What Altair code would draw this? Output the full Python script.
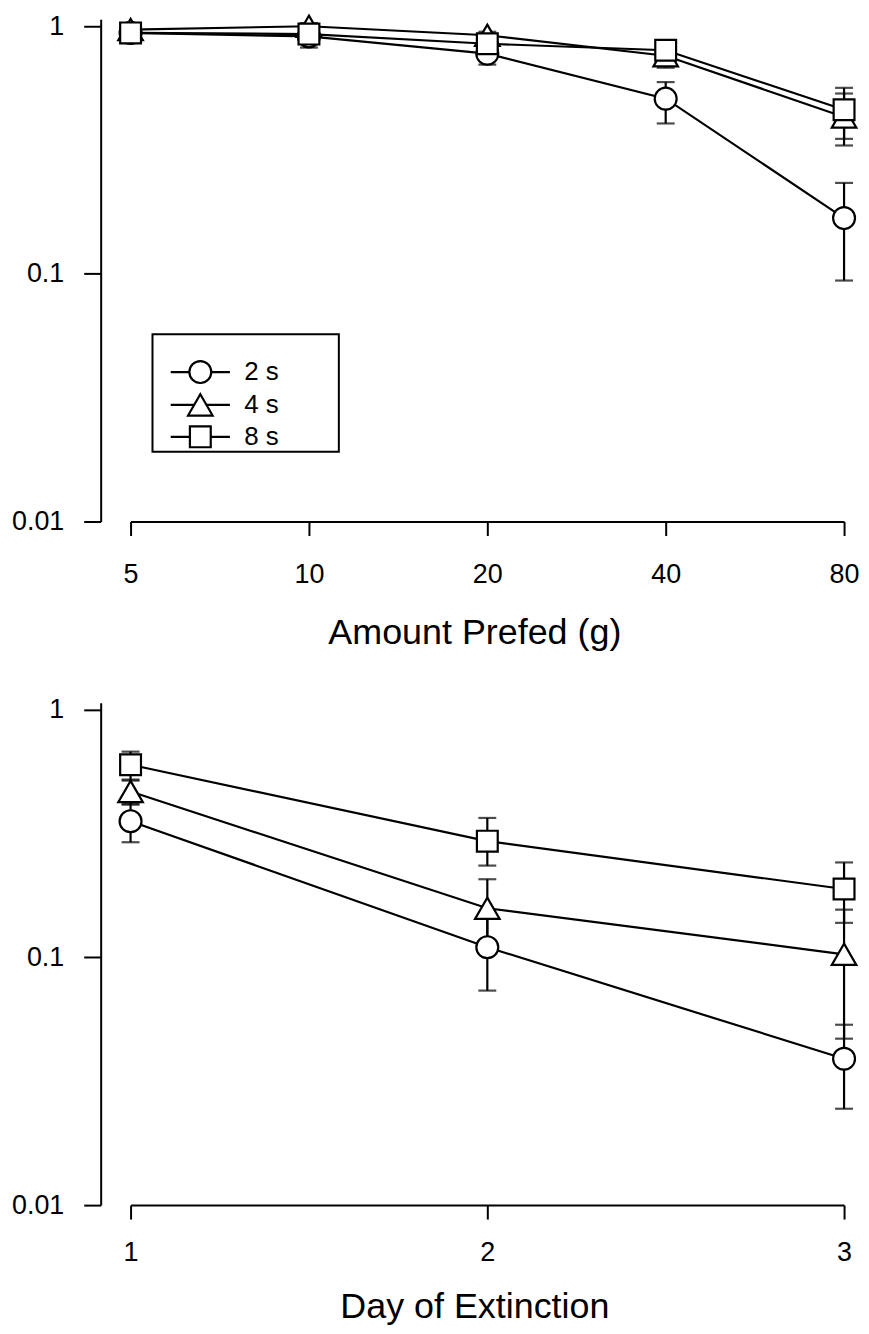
import altair as alt
import pandas as pd

FONT = "Liberation Sans"

series = ["2 s", "4 s", "8 s"]

# Top panel: amount prefed (g)
prefed = [5, 10, 20, 40, 80]
top_mean_2 = [0.94, 0.91, 0.775, 0.51, 0.168]
top_lo_2 = [0.91, 0.82, 0.70, 0.405, 0.094]
top_hi_2 = [0.97, 1.00, 0.85, 0.595, 0.233]
top_mean_4 = [0.97, 1.00, 0.92, 0.76, 0.43]
top_lo_4 = [0.94, 0.97, 0.89, 0.68, 0.33]
top_hi_4 = [1.00, 1.03, 0.95, 0.84, 0.535]
top_mean_8 = [0.94, 0.93, 0.85, 0.80, 0.46]
top_lo_8 = [0.91, 0.90, 0.81, 0.76, 0.351]
top_hi_8 = [0.97, 0.96, 0.89, 0.84, 0.564]

# Bottom panel: day of extinction
days = [1, 2, 3]
bot_mean_2 = [0.355, 0.11, 0.039]
bot_lo_2 = [0.292, 0.0735, 0.0245]
bot_hi_2 = [0.418, 0.146, 0.0535]
bot_mean_4 = [0.468, 0.158, 0.103]
bot_lo_4 = [0.414, 0.108, 0.047]
bot_hi_4 = [0.523, 0.207, 0.156]
bot_mean_8 = [0.60, 0.295, 0.189]
bot_lo_8 = [0.518, 0.235, 0.138]
bot_hi_8 = [0.678, 0.366, 0.242]

y_ticks = [0.01, 0.1, 1]


def make_df(xs, groups):
    rows = []
    for name, (m, lo, hi) in zip(series, groups):
        for x, a, b, c in zip(xs, m, lo, hi):
            rows.append({"x": x, "mean": a, "lo": b, "hi": c, "series": name})
    return pd.DataFrame(rows)


top_df = make_df(prefed, [(top_mean_2, top_lo_2, top_hi_2),
                          (top_mean_4, top_lo_4, top_hi_4),
                          (top_mean_8, top_lo_8, top_hi_8)])
bot_df = make_df(days, [(bot_mean_2, bot_lo_2, bot_hi_2),
                        (bot_mean_4, bot_lo_4, bot_hi_4),
                        (bot_mean_8, bot_lo_8, bot_hi_8)])

marker_paths = [
    "circle",
    "M0,-0.97L1.12,0.97L-1.12,0.97Z",
    "M-0.95,-0.95L0.95,-0.95L0.95,0.95L-0.95,0.95Z",
]
# legend symbols: marker with a short line through it; the trailing move-to
# widens the legend frame without drawing anything
legend_paths = [
    "M-2.7,0L-1,0M1,0L2.7,0M-1,0A1,1 0 1,1 1,0A1,1 0 1,1 -1,0ZM12.2,0",
    "M-2.7,0L-0.56,0M0.56,0L2.7,0M0,-0.97L1.12,0.97L-1.12,0.97ZM12.2,0",
    "M-2.7,0L-0.95,0M0.95,0L2.7,0M-0.95,-0.95L0.95,-0.95L0.95,0.95L-0.95,0.95ZM12.2,0",
]

W, H = 716, 504
ydomain = [0.01, 1.067]
LW = 2.2


def y_axis():
    return alt.Axis(values=y_ticks, tickCount=3, format="~g", offset=30, tickSize=17,
                    labelPadding=20, labelFontSize=27, labelFont=FONT,
                    labelColor="black", domainColor="black", tickColor="black",
                    domainWidth=2, tickWidth=2, grid=False, title=None)


def x_axis(values, title, label_pad, title_y, fmt):
    kw = dict(values=values, tickSize=14, labelPadding=label_pad, labelAngle=0,
              labelFontSize=27, labelFont=FONT, labelColor="black",
              domainColor="black", tickColor="black", domainWidth=2,
              tickWidth=2, grid=False, title=title, titleFont=FONT,
              titleFontSize=36, titleFontWeight="normal", titleColor="black",
              titleX=345, titleY=title_y, titleBaseline="alphabetic",
              titleAlign="center", labelFlush=False)
    if fmt:
        kw["format"] = fmt
    return alt.Axis(**kw)


def panel(df, x, with_legend):
    base = alt.Chart(df)
    y = alt.Y("mean:Q", scale=alt.Scale(type="log", domain=ydomain, nice=False), axis=y_axis())
    bars = base.mark_rule(color="black", strokeWidth=LW).encode(x=x, y="lo:Q", y2="hi:Q")
    cap_lo = base.mark_tick(color="black", orient="horizontal", size=18, thickness=LW).encode(x=x, y="lo:Q")
    cap_hi = base.mark_tick(color="black", orient="horizontal", size=18, thickness=LW).encode(x=x, y="hi:Q")
    lines = base.mark_line(color="black", strokeWidth=LW).encode(x=x, y=y, detail="series:N")
    pts = base.mark_point(filled=True, fill="white", stroke="black", strokeWidth=LW,
                          size=484, opacity=1).encode(
        x=x, y=y,
        shape=alt.Shape("series:N", scale=alt.Scale(domain=series, range=marker_paths), legend=None))
    layers = [bars, cap_lo, cap_hi, lines, pts]
    if with_legend:
        leg = base.transform_filter("false").mark_point(
            color="black", filled=False, strokeWidth=LW, size=484).encode(
            x=x, y=y,
            shape=alt.Shape("series:N", scale=alt.Scale(domain=series, range=legend_paths),
                            legend=alt.Legend(
                                orient="none", legendX=22, legendY=316,
                                title="\u00a0", titleFontSize=22, titlePadding=3,
                                padding=0, strokeColor="black", fillColor="white",
                                symbolSize=484, symbolStrokeWidth=LW,
                                symbolStrokeColor="black", symbolFillColor="white",
                                symbolOpacity=1, symbolOffset=35, labelOffset=31,
                                rowPadding=1, labelFontSize=26, labelFont=FONT,
                                labelColor="black")))
        layers.append(leg)
    ch = alt.layer(*layers).properties(width=W, height=H)
    return ch.resolve_scale(shape="independent")


x_top = alt.X("x:Q", scale=alt.Scale(type="log", base=2, domain=[5, 80], nice=False),
              axis=x_axis(prefed, "Amount Prefed (g)", 26, 122, "d"))
x_bot = alt.X("x:O", scale=alt.Scale(type="point", domain=days, padding=0),
              axis=x_axis(days, "Day of Extinction", 21, 113, None))

top = panel(top_df, x_top, True)
bottom = panel(bot_df, x_bot, False)

chart = alt.vconcat(top, bottom, spacing=45).resolve_scale(
    shape="independent", x="independent", y="independent"
).properties(
    padding={"left": 3, "top": 0, "right": 0, "bottom": 0}
).configure_view(stroke=None).configure_legend(strokeWidth=2)

chart.save("out.html", embed_options={"renderer": "svg", "actions": False})
